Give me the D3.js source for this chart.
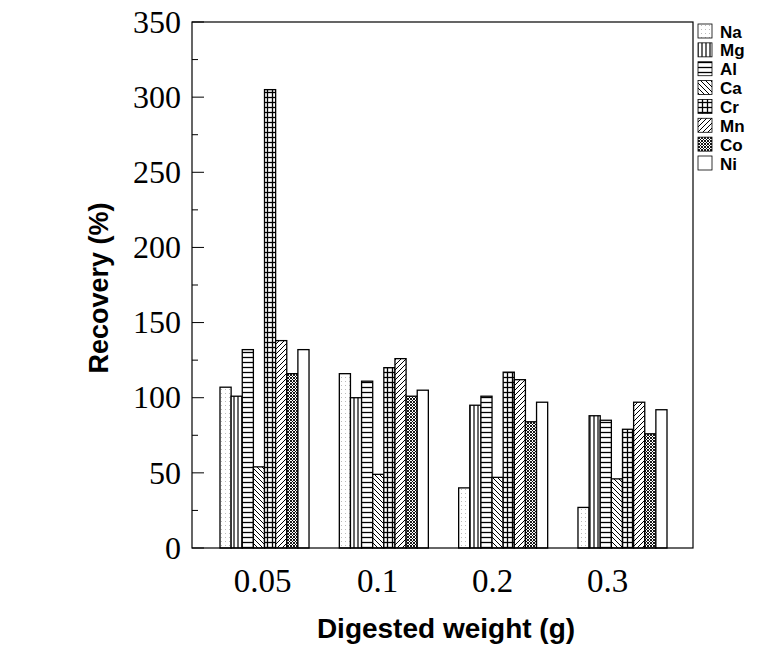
<!DOCTYPE html>
<html><head><meta charset="utf-8">
<script src="https://cdn.jsdelivr.net/npm/d3@7"></script>
<style>body{margin:0;background:#fff}svg{display:block}</style>
</head><body>
<script>
const categories = ["0.05", "0.1", "0.2", "0.3"];
const elements = ["Na", "Mg", "Al", "Ca", "Cr", "Mn", "Co", "Ni"];
const Na = [107, 116, 40, 27];
const Mg = [101, 100, 95, 88];
const Al = [132, 111, 101, 85];
const Ca = [54, 49, 47, 46];
const Cr = [305, 120, 117, 79];
const Mn = [138, 126, 112, 97];
const Co = [116, 101, 84, 76];
const Ni = [132, 105, 97, 92];
const series = [Na, Mg, Al, Ca, Cr, Mn, Co, Ni];
const yTicks = [0, 50, 100, 150, 200, 250, 300, 350];

const W = 781, H = 671;
const L = 192, R = 693, T = 22, B = 548;
const svg = d3.select("body").append("svg").attr("width", W).attr("height", H);
const defs = svg.append("defs");
function pat(id, w, h, draw) {
  const p = defs.append("pattern").attr("id", id).attr("patternUnits", "userSpaceOnUse")
    .attr("width", w).attr("height", h);
  p.append("rect").attr("width", w).attr("height", h).attr("fill", "#fff");
  draw(p);
}
const ln = (p, x1, y1, x2, y2, sw) => p.append("line").attr("x1", x1).attr("y1", y1).attr("x2", x2).attr("y2", y2).attr("stroke", "#000").attr("stroke-width", sw || 1);
pat("pNa", 4, 4, p => { p.append("rect").attr("x", 1).attr("y", 1).attr("width", 1).attr("height", 1).attr("fill", "#bbb"); });
pat("pMg", 4, 4, p => { ln(p, 2, 0, 2, 4, 1.2); });
pat("pAl", 5, 5, p => { ln(p, 0, 2.5, 5, 2.5, 1.3); });
pat("pCa", 5, 5, p => { ln(p, 0, 0, 5, 5, 1); ln(p, -1, 4, 1, 6, 1); ln(p, 4, -1, 6, 1, 1); });
pat("pCr", 5, 5, p => { ln(p, 0, 2.5, 5, 2.5, 1.3); ln(p, 2.5, 0, 2.5, 5, 1.3); });
pat("pMn", 5, 5, p => { ln(p, 0, 5, 5, 0, 1); ln(p, -1, 1, 1, -1, 1); ln(p, 4, 6, 6, 4, 1); });
pat("pCo", 3, 3, p => { ln(p, 0, 0, 3, 3, 0.9); ln(p, 0, 3, 3, 0, 0.9); });
pat("pNi", 4, 4, p => {});
const fills = elements.map(e => "url(#p" + e + ")");

const y = d3.scaleLinear().domain([0, 350]).range([B, T]);
const x0 = d3.scaleBand().domain(categories).range([220, 667]).paddingInner(0.254).paddingOuter(0);
const x1 = d3.scaleBand().domain(elements).range([0, x0.bandwidth()]);
const xLab = d3.scalePoint().domain(categories).range([262, 607]);

// bars
const g = svg.append("g");
categories.forEach((c, ci) => {
  g.selectAll(null).data(elements).enter().append("rect")
    .attr("x", e => x0(c) + x1(e))
    .attr("y", (e, i) => y(series[i][ci]))
    .attr("width", x1.bandwidth())
    .attr("height", (e, i) => B - y(series[i][ci]))
    .attr("fill", (e, i) => fills[i])
    .attr("stroke", "#000").attr("stroke-width", 1.3);
});

// frame
svg.append("rect").attr("x", L).attr("y", T).attr("width", R - L).attr("height", B - T)
  .attr("fill", "none").attr("stroke", "#000").attr("stroke-width", 1.2);

// y axis ticks (inward)
const serif = "Liberation Serif, Times New Roman, serif";
const sans = "Liberation Sans, Arial, sans-serif";
const yAxis = d3.axisLeft(y).tickValues(yTicks).tickSize(0).tickPadding(11);
const ya = svg.append("g").attr("transform", `translate(${L},0)`).call(yAxis);
ya.select(".domain").remove();
ya.selectAll("text").attr("font-family", serif).attr("font-size", 32).attr("fill", "#000");
const minor = d3.range(0, 351, 25);
svg.append("g").selectAll("line").data(minor).enter().append("line")
  .attr("x1", L).attr("x2", d => L + (d % 50 === 0 ? 12 : 6))
  .attr("y1", d => y(d)).attr("y2", d => y(d)).attr("stroke", "#000").attr("stroke-width", 1);

// x labels
const xAxis = d3.axisBottom(xLab).tickSize(0).tickPadding(21);
const xa = svg.append("g").attr("transform", `translate(0,${B})`).call(xAxis);
xa.select(".domain").remove();
xa.selectAll("text").attr("font-family", serif).attr("font-size", 33).attr("fill", "#000");

// axis titles
svg.append("text").attr("x", 446).attr("y", 638).attr("text-anchor", "middle")
  .attr("font-family", sans).attr("font-weight", "bold").attr("font-size", 28)
  .text("Digested weight (g)");
svg.append("text").attr("transform", "translate(108,288) rotate(-90)").attr("text-anchor", "middle")
  .attr("font-family", sans).attr("font-weight", "bold").attr("font-size", 27)
  .text("Recovery (%)");

// legend
const lg = svg.append("g");
const ly = d3.scalePoint().domain(elements).range([31, 163]);
elements.forEach((e, i) => {
  lg.append("rect").attr("x", 698).attr("y", ly(e) - 7).attr("width", 14).attr("height", 14)
    .attr("fill", fills[i]).attr("stroke", "#000").attr("stroke-width", 0.8);
  lg.append("text").attr("x", 720).attr("y", ly(e) + 6.5)
    .attr("font-family", sans).attr("font-weight", "bold").attr("font-size", 17)
    .text(e);
});
</script>
</body></html>
